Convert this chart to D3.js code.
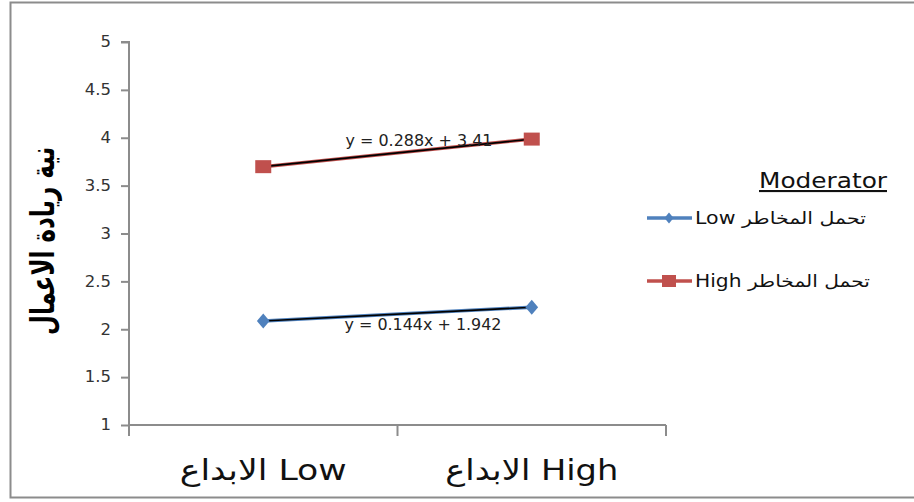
<!DOCTYPE html>
<html>
<head>
<meta charset="utf-8">
<script src="https://cdn.jsdelivr.net/npm/d3@7"></script>
<style>
  html, body { margin: 0; padding: 0; background: #fff; }
  svg { display: block; }
</style>
</head>
<body>
<svg id="chart" width="914" height="502"></svg>
<script>
// Categories on the x axis (innovation level)
const categories = ["Low الابداع", "High الابداع"];
// Moderator series: risk tolerance low / high
const seriesNames = ["تحمل المخاطر Low", "تحمل المخاطر High"];
const lowValues = [2.086, 2.230];
const highValues = [3.698, 3.986];
// Linear trend coefficients shown on the chart
const slopes = [0.144, 0.288];
const intercepts = [1.942, 3.41];
const equationLabels = ["y = 0.144x + 1.942", "y = 0.288x + 3.41"];
const yTicks = [1, 1.5, 2, 2.5, 3, 3.5, 4, 4.5, 5];
const yTitle = "نية ريادة الاعمال";
const legendTitle = "Moderator";

const colors = ["#4F81BD", "#C0504D"];
const FONT = "'DejaVu Sans', sans-serif";
const svg = d3.select("#chart");

// outer frame
svg.append("path")
  .attr("d", "M914,2.5 H10.5 V497.5 H914")
  .attr("fill", "none").attr("stroke", "#8c8c8c").attr("stroke-width", 2);

const plot = { left: 129, right: 666, top: 42, bottom: 425 };

const x = d3.scaleBand().domain(categories).range([plot.left, plot.right]).paddingInner(0).paddingOuter(0);
const y = d3.scaleLinear().domain([1, 5]).range([plot.bottom, plot.top]);
const xc = c => x(c) + x.bandwidth() / 2;

// y axis
const yAxis = svg.append("g").attr("transform", `translate(${plot.left},0)`)
  .call(d3.axisLeft(y).tickValues(yTicks).tickSize(8).tickPadding(10).tickFormat(d3.format("")));
yAxis.select(".domain").attr("stroke", "#8c8c8c").attr("stroke-width", 2).attr("d", `M-8,${plot.top}H0V${plot.bottom + 11}`);
yAxis.selectAll(".tick line").attr("stroke", "#8c8c8c").attr("stroke-width", 2);
yAxis.selectAll(".tick text")
  .attr("fill", "#333")
  .style("font-family", FONT).style("font-size", "15px")
  .attr("transform", "scale(1.1,1)")
  .attr("x", -18 / 1.1);

// x axis with boundary ticks
const xg = svg.append("g");
xg.append("line").attr("x1", plot.left).attr("x2", plot.right).attr("y1", plot.bottom).attr("y2", plot.bottom)
  .attr("stroke", "#8c8c8c").attr("stroke-width", 2);
const bounds = categories.map(c => x(c)).concat([x(categories[categories.length - 1]) + x.bandwidth()]);
xg.selectAll("line.tk").data(bounds).join("line").attr("class", "tk")
  .attr("x1", d => d).attr("x2", d => d).attr("y1", plot.bottom).attr("y2", plot.bottom + 11)
  .attr("stroke", "#8c8c8c").attr("stroke-width", 2);
const catWidths = [167, 173];
xg.selectAll("text").data(categories).join("text")
  .attr("x", (d, i) => xc(d)).attr("y", 480)
  .attr("text-anchor", "middle")
  .attr("direction", "rtl")
  .attr("textLength", (d, i) => catWidths[i]).attr("lengthAdjust", "spacingAndGlyphs")
  .style("font-family", FONT).style("font-size", "29px").attr("fill", "#111")
  .text(d => d);

// y title
svg.append("text")
  .attr("transform", `translate(54,241) rotate(-90)`)
  .attr("x", 94).attr("y", 0)
  .attr("direction", "rtl").attr("text-anchor", "start")
  .attr("textLength", 188).attr("lengthAdjust", "spacingAndGlyphs")
  .style("font-family", FONT).style("font-size", "33px").style("font-weight", "bold")
  .attr("fill", "#000")
  .text(yTitle);

const allSeries = [lowValues, highValues];
const line = d3.line().x((d, i) => xc(categories[i])).y(d => y(d));

allSeries.forEach((vals, s) => {
  svg.append("path").attr("d", line(vals)).attr("fill", "none")
    .attr("stroke", colors[s]).attr("stroke-width", 3.5);
  // trend line from the regression coefficients (x = 1, 2)
  const trend = categories.map((c, i) => intercepts[s] + slopes[s] * (i + 1));
  svg.append("path").attr("d", line(trend)).attr("fill", "none")
    .attr("stroke", "#000").attr("stroke-width", 1.6);
});

// markers
svg.selectAll("path.diamond").data(lowValues).join("path").attr("class", "diamond")
  .attr("d", d3.symbol(d3.symbolDiamond, 90))
  .attr("transform", (d, i) => `translate(${xc(categories[i])},${y(d)}) scale(1.25,0.85)`)
  .attr("fill", colors[0]);
svg.selectAll("rect.sq").data(highValues).join("rect").attr("class", "sq")
  .attr("x", (d, i) => xc(categories[i]) - 8).attr("y", d => y(d) - 6.5)
  .attr("width", 16).attr("height", 13).attr("fill", colors[1]);

// equation labels
const eqPos = [[423, 330], [419, 146]];
const eqWidths = [157, 147];
equationLabels.forEach((t, s) => {
  svg.append("text").attr("x", eqPos[s][0] - eqWidths[s] / 2).attr("y", eqPos[s][1])
    .attr("textLength", eqWidths[s]).attr("lengthAdjust", "spacingAndGlyphs")
    .style("font-family", FONT).style("font-size", "15px").attr("fill", "#222")
    .text(t);
});

// legend
svg.append("text").attr("x", 759).attr("y", 188)
  .attr("textLength", 128).attr("lengthAdjust", "spacingAndGlyphs")
  .style("font-family", FONT).style("font-size", "21px")
  .attr("text-decoration", "underline").attr("fill", "#111")
  .text(legendTitle);
const legY = [218, 281];
const legWidths = [171, 175];
seriesNames.forEach((n, s) => {
  const g = svg.append("g").attr("transform", `translate(0,${legY[s]})`);
  g.append("line").attr("x1", 647).attr("x2", 692).attr("y1", 0).attr("y2", 0)
    .attr("stroke", colors[s]).attr("stroke-width", 3.5);
  if (s === 0) {
    g.append("path").attr("d", d3.symbol(d3.symbolDiamond, 50)).attr("transform", "translate(669,0) scale(1.2,0.85)").attr("fill", colors[0]);
  } else {
    g.append("rect").attr("x", 662).attr("y", -6).attr("width", 14).attr("height", 12).attr("fill", colors[1]);
  }
  g.append("text").attr("x", 695).attr("y", 6)
    .attr("direction", "rtl").attr("text-anchor", "end")
    .attr("textLength", legWidths[s]).attr("lengthAdjust", "spacingAndGlyphs")
    .style("font-family", FONT).style("font-size", "17px").attr("fill", "#111")
    .text(n);
});
</script>
</body>
</html>
